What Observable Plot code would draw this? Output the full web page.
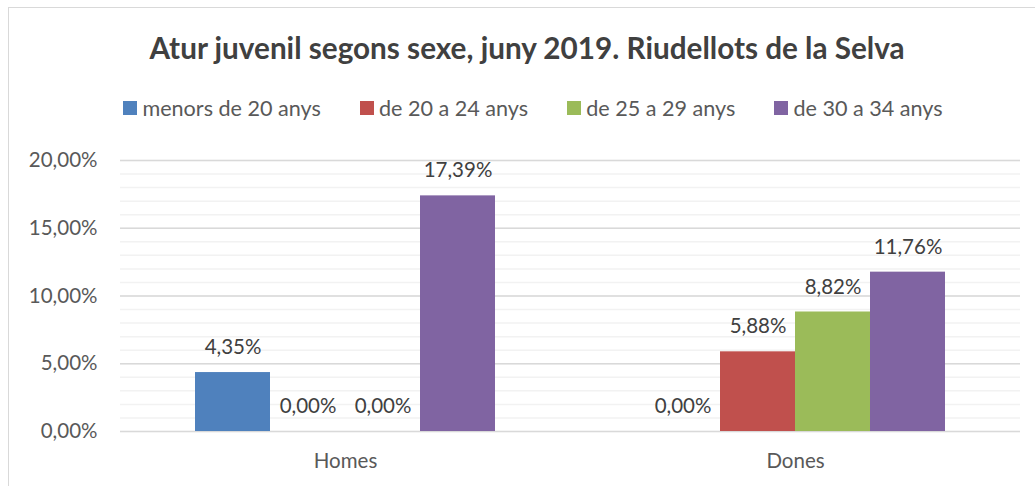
<!DOCTYPE html>
<html>
<head>
<meta charset="utf-8">
<script src="https://cdn.jsdelivr.net/npm/d3@7"></script>
<script src="https://cdn.jsdelivr.net/npm/@observablehq/plot@0.6"></script>
<style>
  body { margin: 0; background: #fff; font-family: Lato, "Open Sans", sans-serif; }
  #wrap { position: relative; width: 1035px; height: 486px; overflow: hidden; }
  #border { position: absolute; left: 8px; top: 7px; width: 1200px; height: 700px; border: 1.5px solid #d9d9d9; box-sizing: border-box; }
  #title { position: absolute; left: 0; top: 28px; width: 1054px; text-align: center; font-weight: bold; font-size: 29.7px; color: #404040; line-height: 40px; }
  #legend { position: absolute; left: 0; top: 94px; width: 1066px; display: flex; justify-content: center; gap: 39px; font-size: 21.6px; color: #595959; line-height: 28px; }
  .item { display: flex; align-items: center; gap: 5px; }
  .sw { width: 14px; height: 14px; display: inline-block; }
  #chart { position: absolute; left: 0; top: 140px; }
</style>
</head>
<body>
<div id="wrap">
  <div id="border"></div>
  <div id="title"></div>
  <div id="legend"></div>
  <div id="chart"></div>
</div>
<script>
const titleText = "Atur juvenil segons sexe, juny 2019. Riudellots de la Selva";
const groups = ["Homes", "Dones"];
const series = ["menors de 20 anys", "de 20 a 24 anys", "de 25 a 29 anys", "de 30 a 34 anys"];
const colors = ["#4f81bd", "#c0504d", "#9bbb59", "#8064a2"];
const homesValues = [0.0435, 0.0, 0.0, 0.1739];
const donesValues = [0.0, 0.0588, 0.0882, 0.1176];
const majorTicks = [0, 0.05, 0.10, 0.15, 0.20];
const minorTicks = d3.range(0, 0.2001, 0.01);

const data = [];
series.forEach((s, i) => {
  data.push({group: "Homes", series: s, value: homesValues[i]});
  data.push({group: "Dones", series: s, value: donesValues[i]});
});

const fmt = v => d3.format(".2%")(v).replace(".", ",");

document.getElementById("title").textContent = titleText;
const legend = document.getElementById("legend");
series.forEach((s, i) => {
  const it = document.createElement("div");
  it.className = "item";
  it.innerHTML = `<span class="sw" style="background:${colors[i]}"></span><span>${s}</span>`;
  legend.appendChild(it);
});

// gridlines are drawn once, in the first facet, and stretched over the whole plot area
const minorGrid = minorTicks.map(y => ({y, group: groups[0]}));
const majorGrid = majorTicks.map(y => ({y, group: groups[0]}));

const chart = Plot.plot({
  width: 1035,
  height: 346,
  marginTop: 20,
  marginBottom: 55,
  marginLeft: 120,
  marginRight: 15,
  style: { fontFamily: "Lato, 'Open Sans', sans-serif", fontSize: "20.5px", color: "#595959", background: "transparent" },
  fx: { domain: groups, paddingInner: 1/3, paddingOuter: 1/6, label: null, axis: "bottom", tickSize: 0, tickPadding: 22 },
  x: { domain: series, padding: 0, axis: null },
  y: { domain: [0, 0.2], label: null, ticks: majorTicks, tickFormat: fmt, tickSize: 0, tickPadding: 98 },
  color: { domain: series, range: colors },
  marks: [
    Plot.ruleY(minorGrid, { fx: "group", y: "y", stroke: "#f2f2f2", strokeWidth: 1.5, insetLeft: -75, insetRight: -525 }),
    Plot.ruleY(majorGrid, { fx: "group", y: "y", stroke: "#d9d9d9", strokeWidth: 1.5, insetLeft: -75, insetRight: -525 }),
    Plot.barY(data, { fx: "group", x: "series", y: "value", fill: "series" }),
    Plot.text(data, { fx: "group", x: "series", y: "value", text: d => fmt(d.value), dy: -25, fill: "#404040", fontSize: 20.5 })
  ]
});
document.getElementById("chart").appendChild(chart);
</script>
</body>
</html>
